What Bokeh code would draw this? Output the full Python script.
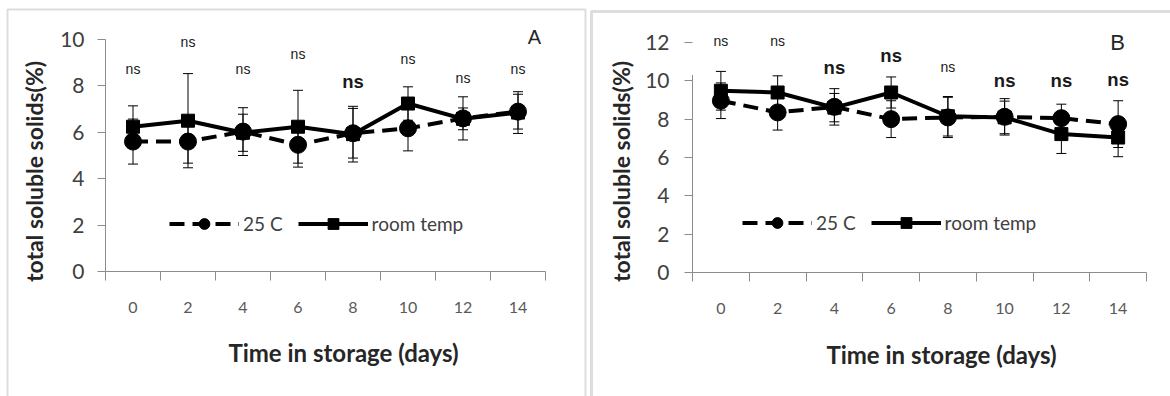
import math
from bokeh.plotting import figure
from bokeh.models import (FixedTicker, Legend, LegendItem, Label, LabelSet,
                          ColumnDataSource, BoxAnnotation, Range1d)
from bokeh.core.properties import value
from bokeh.layouts import row
from bokeh.embed import file_html
from bokeh.resources import INLINE

# ---------------- data ----------------
days = [0, 2, 4, 6, 8, 10, 12, 14]
day_labels = ["0", "2", "4", "6", "8", "10", "12", "14"]

# Panel A
A_25c = [5.60, 5.60, 6.03, 5.46, 5.96, 6.17, 6.60, 6.89]
A_25c_err = [0.97, 0.93, 1.03, 0.96, 1.07, 0.97, 0.93, 0.75]
A_room = [6.24, 6.50, 5.98, 6.24, 5.92, 7.24, 6.58, 6.85]
A_room_err = [0.90, 2.03, 0.80, 1.57, 1.20, 0.72, 0.47, 0.90]
A_ns_y = [8.74, 9.89, 8.74, 9.39, 8.17, 9.14, 8.34, 8.74]
A_ns_bold = [False, False, False, False, True, False, False, False]
A_yticks = [0, 2, 4, 6, 8, 10]

# Panel B
B_25c = [8.96, 8.35, 8.64, 8.00, 8.09, 8.12, 8.05, 7.74]
B_25c_err = [0.93, 0.92, 0.95, 0.96, 1.05, 0.95, 0.73, 1.22]
B_room = [9.48, 9.39, 8.60, 9.39, 8.15, 8.09, 7.22, 7.04]
B_room_err = [1.01, 0.87, 0.74, 0.81, 1.03, 0.85, 1.01, 1.00]
B_ns_y = [12.09, 12.09, 10.70, 11.30, 10.70, 10.03, 10.00, 10.05]
B_ns_bold = [False, False, True, True, False, True, True, True]
B_yticks = [0, 2, 4, 6, 8, 10, 12]

series_names = ["25 C", "room temp"]
y_title = "total soluble solids(%)"
x_title = "Time in storage (days)"

AXIS_GRAY = "#8c8c8c"
CAL = "Lato"
H = 396


def make_panel(W, XL, XR, YB, uy, yticks, ybounds, axis_top, ylab_standoff,
               v25, e25, vroom, eroom, ns_y, ns_bold, letter, letter_size,
               ytitle_pos, xtitle_pos, letter_pos, legend_loc, box):
    ux = (XR - XL) / 16.0
    xr = Range1d(-1 - XL / ux, -1 + (W - XL) / ux)
    yr = Range1d(-(H - YB) / uy, YB / uy)
    p = figure(width=W, height=H, output_backend="svg", toolbar_location=None,
               x_range=xr, y_range=yr, title=None,
               min_border_left=0, min_border_right=0,
               min_border_bottom=0, min_border_top=0)
    p.outline_line_color = None
    p.xgrid.visible = False
    p.ygrid.visible = False
    p.background_fill_color = "white"
    p.border_fill_color = "white"

    # x axis (category style: ticks between categories)
    xa = p.xaxis[0]
    xa.fixed_location = 0
    xa.bounds = (-1, 15)
    xa.ticker = FixedTicker(ticks=days, minor_ticks=[d + 1 for d in [-2] + days])
    xa.major_label_overrides = {d: l for d, l in zip(days, day_labels)}
    xa.major_tick_line_color = None
    xa.major_tick_out = 0
    xa.major_tick_in = 0
    xa.minor_tick_line_color = AXIS_GRAY
    xa.minor_tick_out = 9
    xa.minor_tick_in = 0
    xa.axis_line_color = AXIS_GRAY
    xa.major_label_standoff = 21
    xa.major_label_text_font = CAL
    xa.major_label_text_font_size = "16px"
    xa.major_label_text_color = "#595959"

    # y axis
    ya = p.yaxis[0]
    ya.fixed_location = -1
    ya.ticker = FixedTicker(ticks=yticks)
    ya.bounds = ybounds
    ya.major_tick_out = 8
    ya.major_tick_in = 0
    ya.major_tick_line_color = AXIS_GRAY
    ya.minor_tick_line_color = None
    ya.major_label_standoff = ylab_standoff
    ya.major_label_text_font = CAL
    ya.major_label_text_font_size = "21px"
    ya.major_label_text_color = "#404040"
    if axis_top is not None:
        ya.axis_line_color = None
        p.segment(x0=[-1], y0=[0], x1=[-1], y1=[axis_top], line_color=AXIS_GRAY, line_width=1)
    else:
        ya.axis_line_color = AXIS_GRAY

    # error bars
    for v, e in ((vroom, eroom), (v25, e25)):
        lo = [a - b for a, b in zip(v, e)]
        hi = [a + b for a, b in zip(v, e)]
        p.segment(x0=days, y0=lo, x1=days, y1=hi, line_color="black", line_width=1)
        p.scatter(days + days, lo + hi, marker="dash", size=10, line_color="black", line_width=1)

    # series
    r_room_l = p.line(days, vroom, line_color="black", line_width=4, line_join="round")
    r_25_l = p.line(days, v25, line_color="black", line_width=4, line_dash="15 8")
    r_room_m = p.scatter(days, vroom, marker="square", size=13, color="black")
    r_25_m = p.scatter(days, v25, marker="circle", size=17, color="black")

    legend = Legend(items=[LegendItem(label=series_names[0], renderers=[r_25_l, r_25_m]),
                           LegendItem(label=series_names[1], renderers=[r_room_l, r_room_m])],
                    location=legend_loc, orientation="horizontal",
                    border_line_color=None, background_fill_alpha=0,
                    padding=0, margin=0, spacing=15, glyph_width=70, glyph_height=27,
                    label_standoff=4, label_text_font=CAL, label_text_font_size="19px",
                    label_text_color="#404040")
    p.add_layout(legend)

    # ns significance labels
    for bold in (False, True):
        idx = [i for i, b in enumerate(ns_bold) if b == bold]
        src = ColumnDataSource(dict(x=[days[i] for i in idx], y=[ns_y[i] for i in idx],
                                    t=["ns"] * len(idx)))
        p.add_layout(LabelSet(x="x", y="y", text="t", source=src,
                              text_align="center", text_baseline="middle",
                              text_font=value("Liberation Sans"),
                              text_font_size=value("18.5px" if bold else "14px"),
                              text_font_style=value("bold" if bold else "normal"),
                              text_color="#1a1a1a"))

    # titles (screen units: frame == whole canvas)
    p.add_layout(Label(x=ytitle_pos[0], y=ytitle_pos[1], x_units="screen", y_units="screen",
                       text=y_title, angle=math.pi / 2, text_align="center",
                       text_baseline="middle", text_font=CAL, text_font_style="bold",
                       text_font_size="23px", text_color="#262626"))
    p.add_layout(Label(x=xtitle_pos[0], y=xtitle_pos[1], x_units="screen", y_units="screen",
                       text=x_title, text_align="center", text_baseline="middle",
                       text_font=CAL, text_font_style="bold", text_font_size="24px",
                       text_color="#262626"))
    p.add_layout(Label(x=letter_pos[0], y=letter_pos[1], x_units="screen", y_units="screen",
                       text=letter, text_align="center", text_baseline="middle",
                       text_font="Liberation Sans", text_font_size=letter_size,
                       text_color="#262626"))

    # panel border
    p.add_layout(BoxAnnotation(left=box[0], right=box[1], top=box[2], bottom=box[3],
                               left_units="screen", right_units="screen",
                               top_units="screen", bottom_units="screen",
                               fill_color=None, line_color="#8f8f8f", line_width=box[4]))
    return p


pA = make_panel(589, 105, 545, 271, 23.2, A_yticks, (0, 10), None, 13,
                A_25c, A_25c_err, A_room, A_room_err, A_ns_y, A_ns_bold, "A", "20px",
                (33, H - 171), (343, H - 352), (534, H - 36), (169, H - 224 - 13),
                (7, 585, H - 9, -10, 2))
pB = make_panel(581, 103, 557, 272, 19.17, B_yticks, (0, 12), 10.3, 15,
                B_25c, B_25c_err, B_room, B_room_err, B_ns_y, B_ns_bold, "B", "22px",
                (31, H - 171), (352, H - 354), (528, H - 42), (153, H - 223 - 13),
                (2, 700, H - 11, -10, 3))

layout = row(pA, pB)
open("out.html", "w").write(file_html(layout, INLINE))
